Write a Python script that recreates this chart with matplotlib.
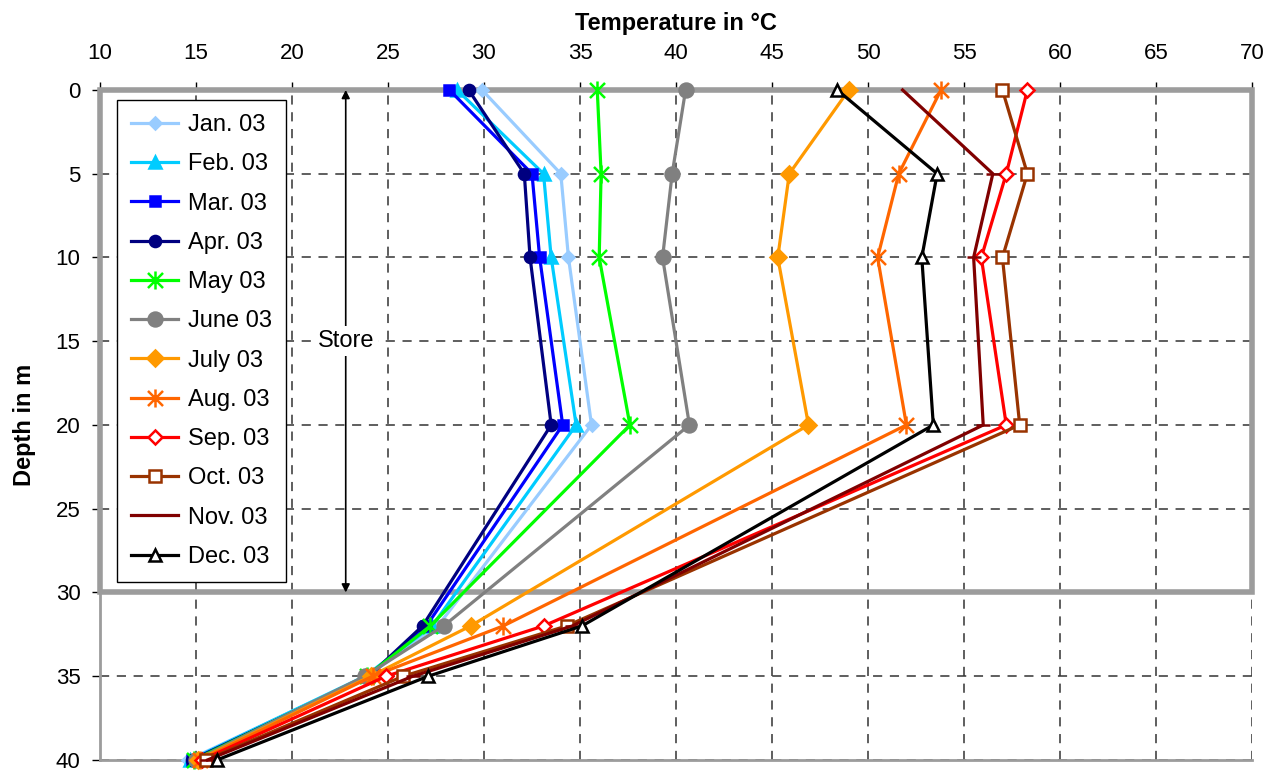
import matplotlib.pyplot as plt
from matplotlib.patches import Rectangle
from matplotlib.path import Path

plt.rcParams['font.family'] = ['Liberation Sans', 'DejaVu Sans']

# depth of the sensors in m
depth = [0, 5, 10, 20, 32, 35, 40]

# temperatures in degC per month
jan = [29.9, 34.0, 34.4, 35.6, 27.6, 23.9, 14.6]
feb = [28.6, 33.1, 33.5, 34.8, 27.3, 23.8, 14.7]
mar = [28.2, 32.5, 32.9, 34.1, 27.0, 24.0, 14.8]
apr = [29.2, 32.1, 32.4, 33.5, 26.8, 24.0, 14.8]
may = [35.9, 36.1, 36.0, 37.6, 27.2, 23.9, 14.9]
jun = [40.5, 39.8, 39.3, 40.7, 27.9, 23.8, 15.0]
jul = [49.0, 45.9, 45.3, 46.9, 29.3, 24.1, 15.1]
aug = [53.8, 51.6, 50.5, 52.0, 31.0, 24.2, 15.2]
sep = [58.3, 57.2, 55.9, 57.2, 33.1, 24.9, 15.3]
octo = [57.0, 58.3, 57.0, 57.9, 34.3, 25.8, 15.5]
nov = [51.8, 56.5, 55.5, 56.0, 34.6, 26.3, 15.6]
dec = [48.4, 53.6, 52.8, 53.4, 35.1, 27.1, 16.1]

labels = ['Jan. 03', 'Feb. 03', 'Mar. 03', 'Apr. 03', 'May 03', 'June 03',
          'July 03', 'Aug. 03', 'Sep. 03', 'Oct. 03', 'Nov. 03', 'Dec. 03']
series = [jan, feb, mar, apr, may, jun, jul, aug, sep, octo, nov, dec]

# excel style star: an X with a vertical bar through it
star = Path([(-1, -1), (1, 1), (-1, 1), (1, -1), (0, -1.2), (0, 1.2)],
            [Path.MOVETO, Path.LINETO] * 3)

# colour, marker, marker size, filled
styles = [
    ('#99CCFF', 'D', 6, True),
    ('#00CCFF', '^', 8, True),
    ('#0000FF', 's', 7, True),
    ('#000080', 'o', 8, True),
    ('#00FF00', star, 13, True),
    ('#808080', 'o', 10, True),
    ('#FF9900', 'D', 8, True),
    ('#FF6600', star, 13, True),
    ('#FF0000', 'D', 7, False),
    ('#993300', 's', 8, False),
    ('#800000', '_', 10, True),
    ('#000000', '^', 9, False),
]

fig = plt.figure(figsize=(12.78, 7.71), dpi=100)
ax = fig.add_axes([0.0782, 0.0143, 0.9015, 0.869])

for vals, lab, (col, mk, ms, filled) in zip(series, labels, styles):
    every = None
    if lab == 'Nov. 03':
        every = [1, 2, 3, 4, 5, 6]
    ax.plot(vals, depth, color=col, lw=2.3, marker=mk, ms=ms,
            mfc=col if filled else 'white', mec=col, mew=1.8,
            markevery=every, label=lab, zorder=3, clip_on=False)

# the store itself
ax.add_patch(Rectangle((10, 0), 60, 30, fill=False, ec='#9C9C9C', lw=4,
                       zorder=2.5, clip_on=False))
ax.annotate('', xy=(22.8, 0), xytext=(22.8, 30),
            arrowprops=dict(arrowstyle='<|-|>', color='black', lw=1.2,
                            mutation_scale=12, shrinkA=0, shrinkB=0), zorder=4)
ax.text(22.8, 15, 'Store', ha='center', va='center', fontsize=17,
        bbox=dict(fc='white', ec='none', pad=3), zorder=5)

ax.set_xlim(10, 70)
ax.set_ylim(40, 0)
ax.set_xticks(range(10, 71, 5))
ax.set_yticks(range(0, 41, 5))
ax.xaxis.tick_top()
ax.xaxis.set_label_position('top')
ax.tick_params(labelsize=16, length=6, width=1, color='black')
ax.tick_params(axis='x', pad=13)
ax.tick_params(axis='y', pad=8)
ax.grid(True, ls=(0, (6, 5)), color='#333333', lw=1.1, zorder=1)
ax.set_axisbelow(True)

ax.set_xlabel('Temperature in °C', fontsize=17, fontweight='bold', labelpad=9)
ax.set_ylabel('Depth in m', fontsize=17, fontweight='bold', labelpad=14)

ax.spines['right'].set_visible(False)
ax.spines['top'].set_visible(False)
for s in ('left', 'bottom'):
    ax.spines[s].set_color('#9C9C9C')
    ax.spines[s].set_linewidth(2)

leg = ax.legend(loc='upper left', bbox_to_anchor=(0.0148, 0.985), fontsize=17,
                numpoints=1, handlelength=2.0, handletextpad=0.4,
                labelspacing=0.73, fancybox=False, edgecolor='black',
                framealpha=1, borderpad=0.6, borderaxespad=0)
leg.get_frame().set_linewidth(1)
leg.set_zorder(6)

plt.savefig('out.png', dpi=100)
